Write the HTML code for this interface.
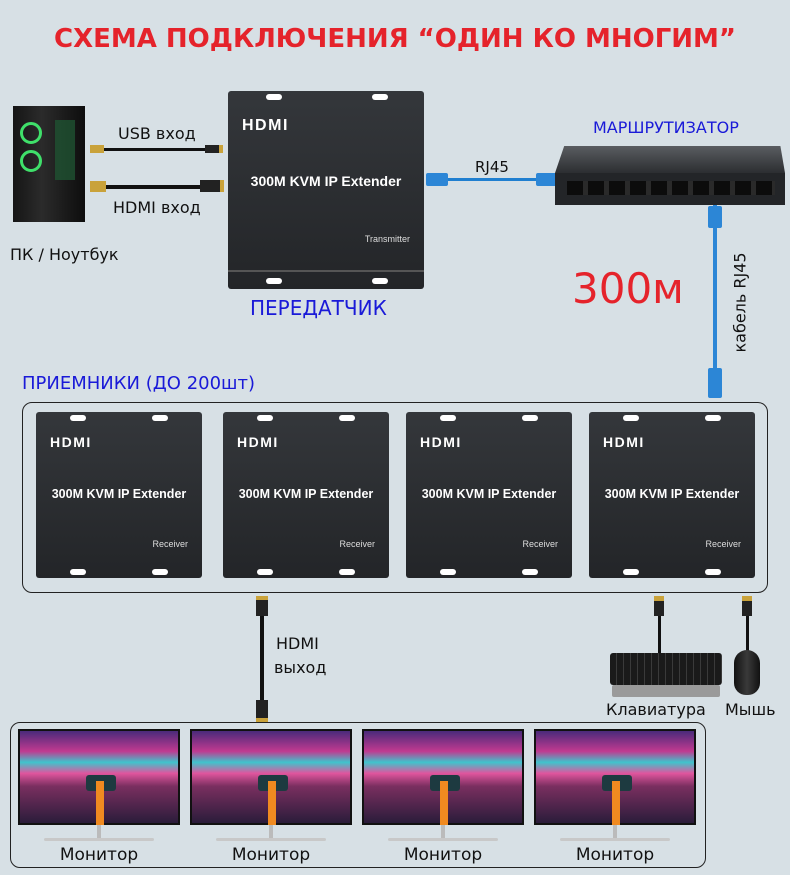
<!DOCTYPE html>
<html><head><meta charset="utf-8"><style>
*{margin:0;padding:0;box-sizing:border-box}
body{width:790px;height:875px;background:#d7e0e5;position:relative;overflow:hidden;font-family:"Liberation Sans","DejaVu Sans",sans-serif}
.a{position:absolute}
.t{position:absolute;white-space:nowrap;font-family:"DejaVu Sans","Liberation Sans",sans-serif}
.box{position:absolute;background:linear-gradient(#34373b,#232528);border-radius:3px}
.box .h{position:absolute;left:14px;top:22px;color:#fff;font:900 14px "Liberation Sans",sans-serif;letter-spacing:1.5px}
.box .n{position:absolute;left:0;right:0;text-align:center;color:#fff;font:bold 12.5px "Liberation Sans",sans-serif}
.box .r{position:absolute;right:14px;color:#ddd;font:9px "Liberation Sans",sans-serif}
.tab{position:absolute;width:16px;height:6px;background:#fff;border-radius:3px}
.mon{position:absolute;width:162px;height:96px;background:linear-gradient(180deg,#4a2a7a 0%,#c03a90 22%,#3fc4cc 34%,#e0559e 46%,#7a2f60 60%,#2a1c3a 100%);border:2px solid #111}
.mon::after{content:"";position:absolute;left:76px;top:50px;width:8px;height:44px;background:#f08a20}
.mon::before{content:"";position:absolute;left:66px;top:44px;width:30px;height:16px;background:#1d3a40;border-radius:3px}
.st{position:absolute;width:4px;height:14px;background:#bbb}
.base{position:absolute;height:3px;background:#c8c8c8;border-radius:2px}
.lbl{position:absolute;width:162px;text-align:center;font-size:17px;color:#111;font-family:"DejaVu Sans",sans-serif}
</style></head><body>
<div class="t" style="left:0;width:790px;text-align:center;top:24px;font-size:26px;color:#e5232b;font-weight:bold">СХЕМА ПОДКЛЮЧЕНИЯ “ОДИН КО МНОГИМ”</div>

<div class="a" style="left:13px;top:106px;width:72px;height:116px;background:linear-gradient(90deg,#151515,#2b2b2b 40%,#0d0d0d);"></div>
<div class="a" style="left:20px;top:122px;width:22px;height:22px;border-radius:50%;border:3px solid #3fe06a"></div>
<div class="a" style="left:20px;top:150px;width:22px;height:22px;border-radius:50%;border:3px solid #3fe06a"></div>
<div class="a" style="left:55px;top:120px;width:20px;height:60px;background:#1f5a35;opacity:.7"></div>
<div class="t" style="left:10px;top:245px;font-size:16px;color:#111">ПК / Ноутбук</div>

<div class="a" style="left:92px;top:148px;width:130px;height:3px;background:#111"></div>
<div class="a" style="left:92px;top:185px;width:130px;height:4px;background:#111"></div>
<div class="a" style="left:90px;top:145px;width:14px;height:8px;background:#c9a23a"></div>
<div class="a" style="left:205px;top:145px;width:18px;height:8px;background:#222;border-right:4px solid #c9a23a"></div>
<div class="a" style="left:90px;top:181px;width:16px;height:11px;background:#c9a23a"></div>
<div class="a" style="left:200px;top:180px;width:24px;height:12px;background:#222;border-right:4px solid #c9a23a"></div>
<div class="t" style="left:118px;top:124px;font-size:16px;color:#111">USB вход</div>
<div class="t" style="left:113px;top:198px;font-size:16px;color:#111">HDMI вход</div>

<div class="box" style="left:228px;top:91px;width:196px;height:198px">
<div class="tab" style="left:38px;top:3px"></div><div class="tab" style="left:144px;top:3px"></div>
<div class="tab" style="left:38px;top:187px"></div><div class="tab" style="left:144px;top:187px"></div>
<div class="h" style="left:14px;top:26px;font-size:16px">HDMI</div>
<div class="n" style="top:82px;font-size:14px">300M KVM IP Extender</div>
<div class="r" style="top:143px">Transmitter</div>
</div>
<div class="a" style="left:228px;top:270px;width:196px;height:2px;background:#555"></div>
<div class="t" style="left:250px;top:296px;font-size:20px;color:#1a1ad8">ПЕРЕДАТЧИК</div>

<div class="a" style="left:428px;top:178px;width:130px;height:3px;background:#1f7fd0"></div>
<div class="a" style="left:426px;top:173px;width:22px;height:13px;background:#2c86d6;border-radius:2px"></div>
<div class="a" style="left:536px;top:173px;width:22px;height:13px;background:#2c86d6;border-radius:2px"></div>
<div class="t" style="left:475px;top:158px;font-size:15px;color:#111">RJ45</div>

<div class="t" style="left:593px;top:118px;font-size:16px;color:#1a1ad8">МАРШРУТИЗАТОР</div>
<div class="a" style="left:555px;top:146px;width:230px;height:27px;background:linear-gradient(#5a5d61,#2c2e31);clip-path:polygon(4% 0,98% 0,100% 100%,0 100%)"></div>
<div class="a" style="left:555px;top:173px;width:230px;height:32px;background:#232528">
<div class="a" style="left:12px;top:8px;width:208px;height:14px;background:repeating-linear-gradient(90deg,#0c0c0c 0 16px,#2a2a2a 16px 21px)"></div></div>

<div class="a" style="left:713px;top:205px;width:4px;height:190px;background:#2c86d6"></div>
<div class="a" style="left:708px;top:206px;width:14px;height:22px;background:#2c86d6;border-radius:2px"></div>
<div class="a" style="left:708px;top:368px;width:14px;height:30px;background:#2c86d6;border-radius:2px"></div>
<div class="t" style="left:572px;top:264px;font-size:42px;color:#e5232b">300м</div>
<div class="t" style="left:690px;top:293px;font-size:16px;color:#111;transform:rotate(-90deg);transform-origin:center;width:100px;text-align:center">кабель RJ45</div>

<div class="t" style="left:22px;top:373px;font-size:18px;color:#1a1ad8">ПРИЕМНИКИ (ДО 200шт)</div>
<div class="a" style="left:22px;top:402px;width:746px;height:191px;border:1.5px solid #222;border-radius:10px"></div>

<div class="box" style="left:36px;top:412px;width:166px;height:166px"><div class="tab" style="left:34px;top:3px"></div><div class="tab" style="left:116px;top:3px"></div><div class="tab" style="left:34px;top:157px"></div><div class="tab" style="left:116px;top:157px"></div><div class="h">HDMI</div><div class="n" style="top:75px">300M KVM IP Extender</div><div class="r" style="top:127px">Receiver</div></div>
<div class="box" style="left:223px;top:412px;width:166px;height:166px"><div class="tab" style="left:34px;top:3px"></div><div class="tab" style="left:116px;top:3px"></div><div class="tab" style="left:34px;top:157px"></div><div class="tab" style="left:116px;top:157px"></div><div class="h">HDMI</div><div class="n" style="top:75px">300M KVM IP Extender</div><div class="r" style="top:127px">Receiver</div></div>
<div class="box" style="left:406px;top:412px;width:166px;height:166px"><div class="tab" style="left:34px;top:3px"></div><div class="tab" style="left:116px;top:3px"></div><div class="tab" style="left:34px;top:157px"></div><div class="tab" style="left:116px;top:157px"></div><div class="h">HDMI</div><div class="n" style="top:75px">300M KVM IP Extender</div><div class="r" style="top:127px">Receiver</div></div>
<div class="box" style="left:589px;top:412px;width:166px;height:166px"><div class="tab" style="left:34px;top:3px"></div><div class="tab" style="left:116px;top:3px"></div><div class="tab" style="left:34px;top:157px"></div><div class="tab" style="left:116px;top:157px"></div><div class="h">HDMI</div><div class="n" style="top:75px">300M KVM IP Extender</div><div class="r" style="top:127px">Receiver</div></div>

<div class="a" style="left:260px;top:598px;width:4px;height:122px;background:#111"></div>
<div class="a" style="left:256px;top:596px;width:12px;height:20px;background:#222;border-top:4px solid #c9a23a"></div>
<div class="a" style="left:256px;top:700px;width:12px;height:22px;background:#222;border-bottom:4px solid #c9a23a"></div>
<div class="t" style="left:276px;top:634px;font-size:16px;color:#111">HDMI</div>
<div class="t" style="left:274px;top:658px;font-size:16px;color:#111">выход</div>

<div class="a" style="left:658px;top:598px;width:3px;height:56px;background:#111"></div>
<div class="a" style="left:654px;top:596px;width:10px;height:20px;background:#222;border-top:5px solid #c9a23a"></div>
<div class="a" style="left:746px;top:598px;width:3px;height:54px;background:#111"></div>
<div class="a" style="left:742px;top:596px;width:10px;height:20px;background:#222;border-top:5px solid #c9a23a"></div>
<div class="a" style="left:610px;top:653px;width:112px;height:32px;background:repeating-linear-gradient(90deg,#1a1a1a 0 6px,#3a3a3a 6px 7px);border-radius:3px"></div>
<div class="a" style="left:612px;top:685px;width:108px;height:12px;background:#9a9a9a;border-radius:2px"></div>
<div class="a" style="left:734px;top:650px;width:26px;height:45px;background:linear-gradient(90deg,#111,#3a3a3a,#111);border-radius:13px 13px 12px 12px"></div>
<div class="t" style="left:606px;top:700px;font-size:16px;color:#111">Клавиатура</div>
<div class="t" style="left:725px;top:700px;font-size:16px;color:#111">Мышь</div>

<div class="a" style="left:10px;top:722px;width:696px;height:146px;border:1.5px solid #222;border-radius:10px"></div>
<div class="mon" style="left:18px;top:729px"></div><div class="st" style="left:97px;top:825px"></div><div class="base" style="left:44px;top:838px;width:110px"></div><div class="lbl" style="left:18px;top:845px">Монитор</div>
<div class="mon" style="left:190px;top:729px"></div><div class="st" style="left:269px;top:825px"></div><div class="base" style="left:216px;top:838px;width:110px"></div><div class="lbl" style="left:190px;top:845px">Монитор</div>
<div class="mon" style="left:362px;top:729px"></div><div class="st" style="left:441px;top:825px"></div><div class="base" style="left:388px;top:838px;width:110px"></div><div class="lbl" style="left:362px;top:845px">Монитор</div>
<div class="mon" style="left:534px;top:729px"></div><div class="st" style="left:613px;top:825px"></div><div class="base" style="left:560px;top:838px;width:110px"></div><div class="lbl" style="left:534px;top:845px">Монитор</div>
</body></html>
